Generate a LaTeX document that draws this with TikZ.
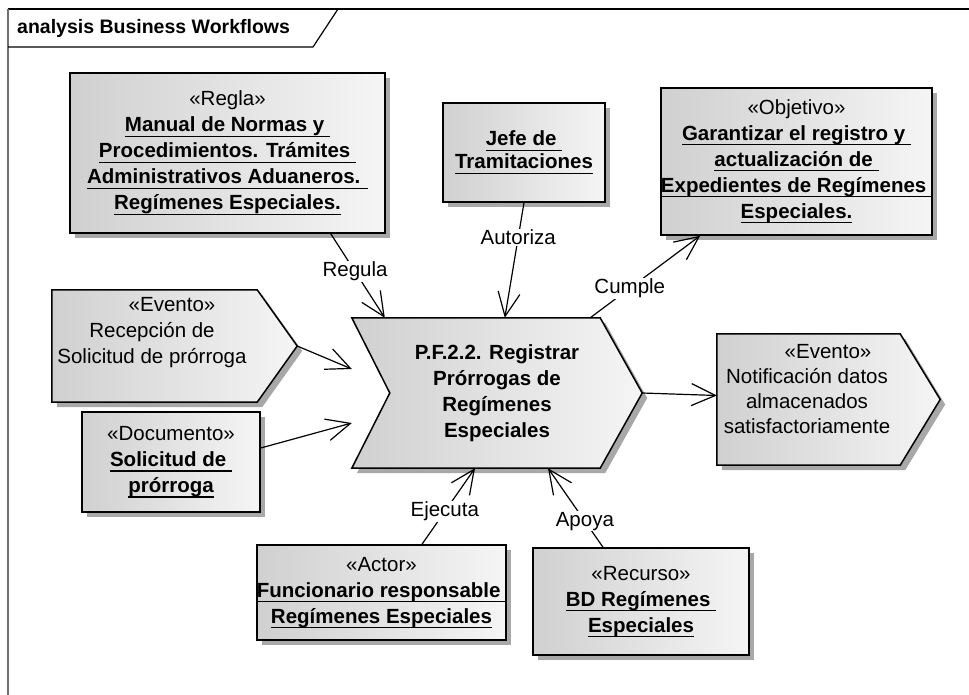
\documentclass[tikz,border=0pt]{standalone}
\usepackage{fontspec}
\setmainfont{Liberation Sans}
\usetikzlibrary{
  arrows.meta,
  shadows,
  backgrounds,
  calc
}
\definecolor{bwLine}{HTML}{000000}
\definecolor{bwShade}{HTML}{D0D0D0}
\definecolor{bwLight}{HTML}{F5F5F5}
\definecolor{bwShadow}{HTML}{A8A8A8}
\definecolor{bwFrame}{HTML}{707070}
\newcommand{\undl}[1]{\leavevmode\sbox0{#1}\rlap{\rule[-5pt]{\wd0}{1.3pt}}\usebox0}
\tikzset{
  bwnode/.style={
    align=center, inner sep=0pt, font=\fontsize{20.5}{26}\selectfont
  },
  bwshadow/.style={drop shadow={shadow xshift=5pt, shadow yshift=-5pt, fill=bwShadow, opacity=1}},
  bwbox/.style={bwnode, draw=bwLine, line width=1.5pt, left color=bwShade, right color=bwLight, bwshadow},
  bwshape/.style={draw=bwLine, line width=1.5pt, left color=bwShade, right color=bwLight, bwshadow},
  frameline/.style={line width=1.2pt, bwLine},
  titletext/.style={font=\fontsize{19.5}{21}\selectfont\bfseries, inner sep=0pt},
  rel/.style={-{Straight Barb[length=24pt, width=22pt]}, line width=1.2pt},
  rellabel/.style={fill=white, inner sep=1pt, font=\fontsize{20.5}{24}\selectfont}
}
\begin{document}
\begin{tikzpicture}[x=1pt, y=-1pt]
  \useasboundingbox (0,0) rectangle (969,695);
  % frame
  \draw[frameline] (8,9) -- (969,9);
  \draw[line width=2pt, bwFrame] (8,9) -- (8,695);
  \draw[frameline] (8,47) -- (313,47) -- (338,9);
  \node[titletext, anchor=west] (title) at (17,28) {analysis Business Workflows};

  % elements
  \node[bwbox, minimum width=315pt, minimum height=160pt] (regla) at (227.5,153)
    {«Regla»\\\textbf{\undl{Manual de Normas y }}\\\textbf{\undl{Procedimientos. Trámites }}\\
     \textbf{\undl{Administrativos Aduaneros. }}\\\textbf{\undl{Regímenes Especiales.}}};
  \node[bwbox, minimum width=162pt, minimum height=99pt, font=\fontsize{20.5}{23}\selectfont] (jefe) at (524,152.5)
    {\textbf{\undl{Jefe de }}\\\textbf{\undl{Tramitaciones}}};
  \node[bwbox, minimum width=271pt, minimum height=147pt] (objetivo) at (796.5,161.5)
    {«Objetivo»\\\textbf{\undl{Garantizar el registro y }}\\\textbf{\undl{actualización de }}\\
     \textbf{\undl{Expedientes de Regímenes }}\\\textbf{\undl{Especiales.}}};
  \node[bwbox, minimum width=178pt, minimum height=100pt] (docu) at (171,462)
    {«Documento»\\\textbf{\undl{Solicitud de }}\\\textbf{\undl{prórroga}}};
  \node[bwbox, minimum width=247pt, minimum height=95pt] (actor) at (381.5,592.5)
    {«Actor»\\\textbf{\undl{Funcionario responsable }}\\\textbf{\undl{Regímenes Especiales}}};
  \node[bwbox, minimum width=216pt, minimum height=107pt] (recurso) at (641,601.5)
    {«Recurso»\\\textbf{\undl{BD Regímenes }}\\\textbf{\undl{Especiales}}};
  \node[bwnode, minimum width=290pt, minimum height=150pt, font=\fontsize{20.5}{26}\selectfont\bfseries] (proc) at (497,393)
    {P.F.2.2. Registrar\\Prórrogas de\\Regímenes\\Especiales};
  \node[bwnode, minimum width=245pt, minimum height=112pt] (evL) at (174.5,346) {};
  \node[bwnode, minimum width=223pt, minimum height=131pt] (evR) at (828.5,399.5) {};
  \node[bwnode] (evLtext) at (152,333)
    {\hspace*{40pt}«Evento»\\Recepción de\\Solicitud de prórroga};
  \node[bwnode, font=\fontsize{20.5}{25}\selectfont] (evRtext) at (807,389)
    {\hspace*{42pt}«Evento»\\Notificación datos\\almacenados\\satisfactoriamente};

  \begin{scope}[on background layer]
    \path[bwshape] (proc.north west) -- ([xshift=-42pt]proc.north east) -- (proc.east)
      -- ([xshift=-42pt]proc.south east) -- (proc.south west) -- ([xshift=38pt]proc.west) -- cycle;
    \path[bwshape] (evL.north west) -- ([xshift=-40pt]evL.north east) -- (evL.east)
      -- ([xshift=-40pt]evL.south east) -- (evL.south west) -- cycle;
    \path[bwshape] (evR.north west) -- ([xshift=-40pt]evR.north east) -- (evR.east)
      -- ([xshift=-40pt]evR.south east) -- (evR.south west) -- cycle;
  \end{scope}

  % relations
  \draw[rel] ([xshift=-55pt]regla.south east) -- node[rellabel, pos=0.45] (regula) {Regula} ([xshift=33pt]proc.north west);
  \draw[rel] (jefe.south) -- node[rellabel, pos=0.3] (autoriza) {Autoriza} ([xshift=153pt]proc.north west);
  \draw[rel] ([xshift=-52pt]proc.north east) -- node[rellabel, pos=0.36] (cumple) {Cumple} ([xshift=40pt]objetivo.south west);
  \draw[rel] (evL.east) -- ([yshift=24pt]proc.west);
  \draw[rel] ([yshift=14pt]docu.east) -- ([yshift=-30pt]proc.west);
  \draw[rel] (proc.east) -- ([yshift=4pt]evR.west);
  \draw[rel] ([xshift=40.5pt]actor.north) -- node[rellabel, pos=0.43] (ejecuta) {Ejecuta} ([xshift=-22pt]proc.south);
  \draw[rel] ([xshift=-38pt]recurso.north) -- node[rellabel, pos=0.33] (apoya) {Apoya} ([xshift=51pt]proc.south);
\end{tikzpicture}
\end{document}
